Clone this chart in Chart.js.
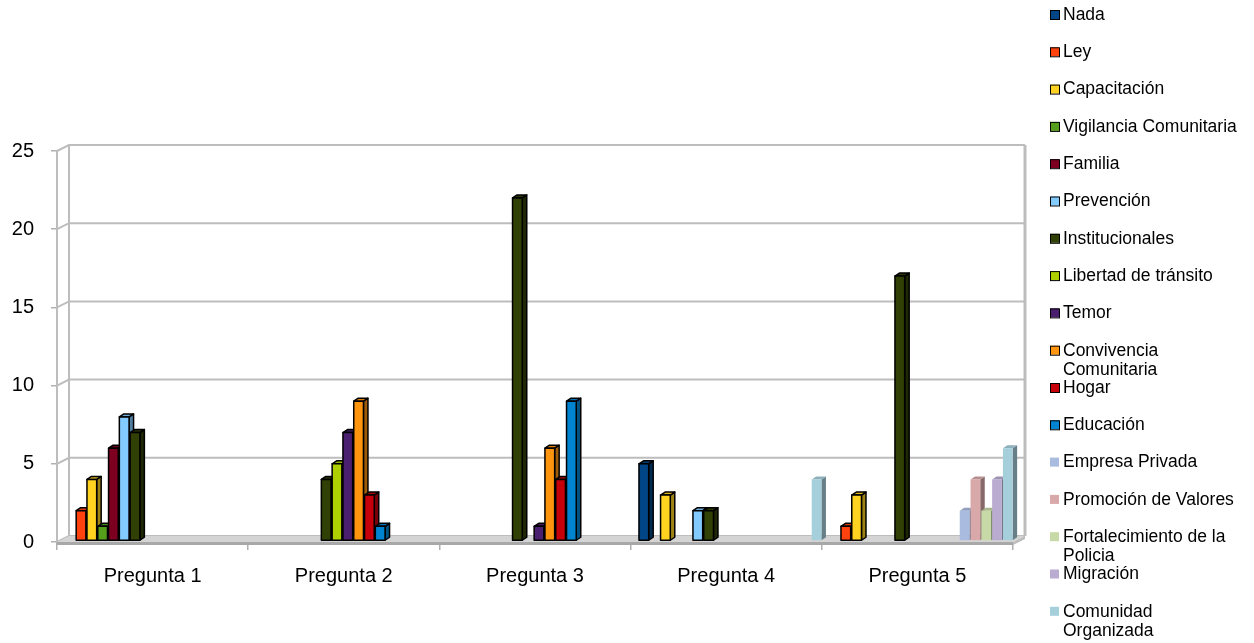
<!DOCTYPE html>
<html>
<head>
<meta charset="utf-8">
<script src="https://cdn.jsdelivr.net/npm/chart.js@4/dist/chart.umd.min.js"></script>
<style>
  body { margin: 0; background: #fff; }
  canvas { display: block; }
</style>
</head>
<body>
<canvas id="chart" width="1254" height="643"></canvas>
<script>
// categories + series
const categories = ["Pregunta 1", "Pregunta 2", "Pregunta 3", "Pregunta 4", "Pregunta 5"];
const yTicks = [0, 5, 10, 15, 20, 25];

const nada            = [0, 0, 0, 5, 0];
const ley             = [2, 0, 0, 0, 1];
const capacitacion    = [4, 0, 0, 3, 3];
const vigilancia      = [1, 0, 0, 0, 0];
const familia         = [6, 0, 0, 0, 0];
const prevencion      = [8, 0, 0, 2, 0];
const institucionales = [7, 4, 22, 2, 17];
const libertad        = [0, 5, 0, 0, 0];
const temor           = [0, 7, 1, 0, 0];
const convivencia     = [0, 9, 6, 0, 0];
const hogar           = [0, 3, 4, 0, 0];
const educacion       = [0, 1, 9, 0, 0];
const empresa         = [0, 0, 0, 0, 2];
const promocion       = [0, 0, 0, 0, 4];
const fortalecimiento = [0, 0, 0, 0, 2];
const migracion       = [0, 0, 0, 0, 4];
const comunidad       = [0, 0, 0, 4, 6];

const seriesNames = ["Nada", "Ley", "Capacitación", "Vigilancia Comunitaria", "Familia", "Prevención",
    "Institucionales", "Libertad de tránsito", "Temor", "Convivencia Comunitaria", "Hogar", "Educación",
    "Empresa Privada", "Promoción de Valores", "Fortalecimiento de la Policia", "Migración", "Comunidad Organizada"];
const seriesValues = [nada, ley, capacitacion, vigilancia, familia, prevencion, institucionales, libertad,
    temor, convivencia, hogar, educacion, empresa, promocion, fortalecimiento, migracion, comunidad];
const seriesColors = ["#004586", "#ff420e", "#ffd320", "#579d1c", "#7e0021", "#83caff", "#314004", "#aecf00",
    "#4b1f6f", "#ff950e", "#c5000b", "#0084d1", "#a9bbdf", "#d9a8a8", "#c6d9a6", "#b9acd0", "#a6cfdc"];
const outlined = 12; // first 12 series have black outlines

const FONT = "'Liberation Sans', Arial, sans-serif";
const WX = 12, WY = 6;      // wall depth
const BX = 4.5, BY = 3;     // bar depth
const SHIFT = 4;

function shade(hex, f) {
    const n = parseInt(hex.slice(1), 16);
    const r = Math.round(((n >> 16) & 255) * f), g = Math.round(((n >> 8) & 255) * f), b = Math.round((n & 255) * f);
    return `rgb(${r},${g},${b})`;
}

function poly(ctx, pts, fill, stroke) {
    ctx.beginPath();
    ctx.moveTo(pts[0][0], pts[0][1]);
    for (let i = 1; i < pts.length; i++) ctx.lineTo(pts[i][0], pts[i][1]);
    ctx.closePath();
    ctx.fillStyle = fill;
    ctx.fill();
    if (stroke) { ctx.strokeStyle = stroke; ctx.lineWidth = 1.5; ctx.lineJoin = "round"; ctx.stroke(); }
}

// 3D walls, floor and bars
const depth3d = {
    id: "depth3d",
    beforeDatasetsDraw(chart) {
        const { ctx, chartArea: a, scales: { y } } = chart;
        ctx.save();

        // back wall grid + left wall
        ctx.strokeStyle = "#bdbdbd";
        ctx.lineWidth = 2;
        yTicks.forEach(v => {
            const py = y.getPixelForValue(v);
            ctx.beginPath();
            ctx.moveTo(a.left, py);
            ctx.lineTo(a.left + WX, py - WY);
            ctx.lineTo(a.right + WX, py - WY);
            ctx.stroke();
        });
        ctx.beginPath();
        ctx.moveTo(a.left, a.top); ctx.lineTo(a.left, a.bottom);
        ctx.moveTo(a.left + WX, a.top - WY); ctx.lineTo(a.left + WX, a.bottom - WY);
        ctx.stroke();
        ctx.lineWidth = 3;
        ctx.beginPath();
        ctx.moveTo(a.right + WX, a.top - WY); ctx.lineTo(a.right + WX, a.bottom - WY);
        ctx.stroke();

        // floor
        poly(ctx, [[a.left, a.bottom], [a.right, a.bottom], [a.right + WX, a.bottom - WY], [a.left + WX, a.bottom - WY]], "#d4d4d4");
        poly(ctx, [[a.left, a.bottom], [a.right, a.bottom], [a.right, a.bottom + 3], [a.left, a.bottom + 3]], "#a8a8a8");
        poly(ctx, [[a.right, a.bottom], [a.right + WX, a.bottom - WY], [a.right + WX, a.bottom - WY + 3], [a.right, a.bottom + 3]], "#bcbcbc");

        // bars, left to right so each face hides the previous side
        for (let c = 0; c < categories.length; c++) {
            for (let d = 0; d < seriesValues.length; d++) {
                if (!seriesValues[d][c]) continue;
                const el = chart.getDatasetMeta(d).data[c];
                const col = seriesColors[d];
                const stroke = d < outlined ? "#000" : null;
                const x0 = el.x - el.width / 2 + SHIFT, x1 = x0 + el.width;
                const yT = el.y, yB = el.base - 1;
                poly(ctx, [[x1, yB], [x1 + BX, yB - BY], [x1 + BX, yT - BY], [x1, yT]], shade(col, 0.62), stroke);
                poly(ctx, [[x0, yT], [x0 + BX, yT - BY], [x1 + BX, yT - BY], [x1, yT]], shade(col, 0.85), stroke);
                poly(ctx, [[x0, yT], [x1, yT], [x1, yB], [x0, yB]], col, stroke);
            }
        }
        ctx.restore();
        return false;
    },
    afterDraw(chart) {
        // legend on the right
        const ctx = chart.ctx;
        ctx.save();
        ctx.font = "17.5px " + FONT;
        ctx.textBaseline = "middle";
        seriesNames.forEach((name, i) => {
            const yy = 15 + i * 37.3;
            ctx.fillStyle = seriesColors[i];
            ctx.fillRect(1050, yy - 5, 9, 9);
            if (i < outlined) { ctx.strokeStyle = "#000"; ctx.lineWidth = 1; ctx.strokeRect(1050.5, yy - 4.5, 9, 9); }
            ctx.fillStyle = "#000";
            // wrap long names
            const words = name.split(" ");
            const lines = [];
            let cur = "";
            words.forEach(w => {
                const t = cur ? cur + " " + w : w;
                if (ctx.measureText(t).width > 180 && cur) { lines.push(cur); cur = w; } else cur = t;
            });
            lines.push(cur);
            lines.forEach((l, k) => ctx.fillText(l, 1063, yy + k * 19));
        });
        ctx.restore();
    }
};

new Chart(document.getElementById("chart"), {
    type: "bar",
    data: {
        labels: categories,
        datasets: seriesNames.map((name, i) => ({
            label: name,
            data: seriesValues[i],
            backgroundColor: seriesColors[i],
            categoryPercentage: 0.96,
            barPercentage: 0.9
        }))
    },
    options: {
        responsive: false,
        animation: false,
        layout: { padding: { left: 0, top: 151, right: 241, bottom: 0 } },
        plugins: { legend: { display: false }, tooltip: { enabled: false } },
        scales: {
            x: {
                border: { display: false },
                grid: { drawOnChartArea: false, drawTicks: true, tickLength: 8, color: "#b0b0b0", lineWidth: 1.5 },
                ticks: { color: "#000", font: { family: FONT, size: 20 }, padding: 14, maxRotation: 0 },
                afterFit: s => { s.height = 101; }
            },
            y: {
                min: 0, max: 25,
                border: { display: false },
                grid: { drawOnChartArea: false, drawTicks: true, tickLength: 6, color: "#b0b0b0", lineWidth: 1.5 },
                ticks: { stepSize: 5, color: "#000", font: { family: FONT, size: 20 }, padding: 17 },
                afterFit: s => { s.width = 57; }
            }
        }
    },
    plugins: [depth3d]
});
</script>
</body>
</html>
